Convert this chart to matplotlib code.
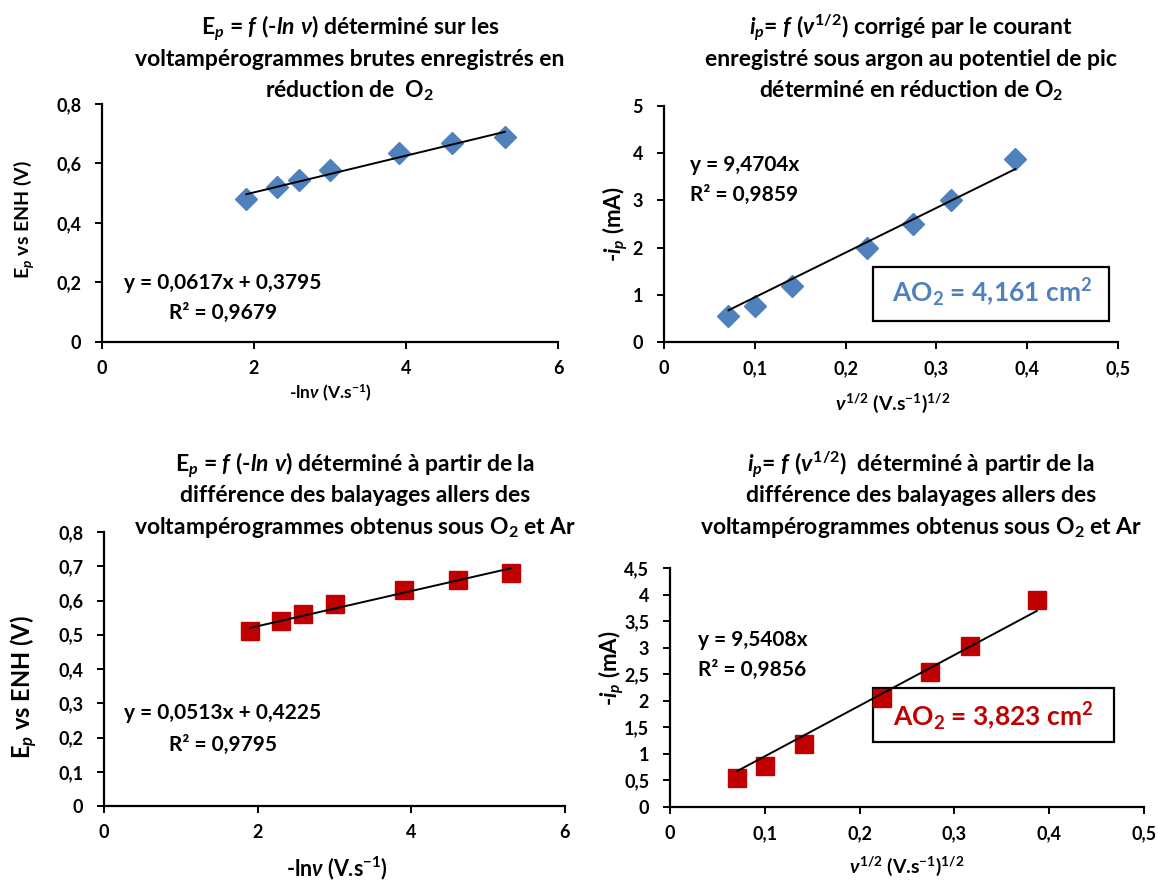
import matplotlib
matplotlib.use("Agg")
import matplotlib.pyplot as plt
import numpy as np
from matplotlib.ticker import FuncFormatter, MultipleLocator
from matplotlib.patches import Rectangle

plt.rcParams['font.family'] = ['Lato', 'DejaVu Sans']
plt.rcParams['font.weight'] = 'bold'
plt.rcParams['mathtext.fontset'] = 'custom'
plt.rcParams['mathtext.rm'] = 'Lato:bold'
plt.rcParams['mathtext.it'] = 'Lato:bold:italic'
plt.rcParams['mathtext.bf'] = 'Lato:bold'

# ---------------- data ----------------
neg_ln_v = [1.90, 2.30, 2.59, 3.00, 3.91, 4.61, 5.30]
sqrt_v = [0.071, 0.100, 0.141, 0.224, 0.274, 0.316, 0.387]

ep_raw = [0.480, 0.520, 0.545, 0.578, 0.635, 0.668, 0.690]
ip_raw = [0.55, 0.77, 1.18, 2.00, 2.50, 3.00, 3.88]
ep_diff = [0.510, 0.540, 0.560, 0.590, 0.630, 0.660, 0.680]
ip_diff = [0.55, 0.78, 1.18, 2.05, 2.55, 3.03, 3.90]

fit_ep_raw = (0.0617, 0.3795)
fit_ip_raw = (9.4704, 0.0)
fit_ep_diff = (0.0513, 0.4225)
fit_ip_diff = (9.5408, 0.0)

BLUE = '#4F81BD'
RED = '#C00000'

W, H = 1158, 881
fig = plt.figure(figsize=(W / 100, H / 100), dpi=100)

TITLE = 16.5
EQ = 15
TICK = 13


def px_axes(l, r, t, b):
    return fig.add_axes([l / W, 1 - b / H, (r - l) / W, (b - t) / H])


def ftext(x, y, s, **kw):
    return fig.text(x / W, 1 - y / H, s, **kw)


comma = FuncFormatter(lambda v, p: ('%g' % round(v, 3)).replace('.', ','))


def style(ax, xmax, xstep, ymax, ystep):
    ax.set_xlim(0, xmax)
    ax.set_ylim(0, ymax)
    ax.xaxis.set_major_locator(MultipleLocator(xstep))
    ax.yaxis.set_major_locator(MultipleLocator(ystep))
    ax.xaxis.set_major_formatter(comma)
    ax.yaxis.set_major_formatter(comma)
    for s in ['top', 'right']:
        ax.spines[s].set_visible(False)
    for s in ['left', 'bottom']:
        ax.spines[s].set_linewidth(1.6)
    ax.tick_params(direction='out', length=5, width=1.4, labelsize=TICK)
    ax.tick_params(axis='x', pad=8)
    ax.tick_params(axis='y', pad=10)
    for lab in ax.get_xticklabels() + ax.get_yticklabels():
        lab.set_fontweight('bold')
    ax.set_facecolor('none')


def trend(ax, x, fit):
    xs = np.array([min(x), max(x)])
    ax.plot(xs, fit[0] * xs + fit[1], color='black', lw=1.4, zorder=4)


def area_box(ax, l, r, t, b, cx, cy, s, color):
    rect = Rectangle((l / W, 1 - b / H), (r - l) / W, (b - t) / H, transform=fig.transFigure,
                     fc='white', ec='black', lw=1.6, zorder=2, clip_on=False)
    ax.add_patch(rect)
    ax.text(cx / W, 1 - cy / H, s, transform=fig.transFigure, ha='center', va='center',
            fontsize=19, color=color, zorder=2.5, clip_on=False)


def title3(cx, ys, lines):
    for y, s in zip(ys, lines):
        ftext(cx, y, s, ha='center', va='center', fontsize=TITLE)


# ---- Panel 1 ----
ax1 = px_axes(102, 558, 104, 342)
style(ax1, 6, 2, 0.8, 0.2)
ax1.plot(neg_ln_v, ep_raw, 'D', color=BLUE, ms=11.5, mec=BLUE, zorder=3)
trend(ax1, neg_ln_v, fit_ep_raw)
ftext(223, 283, 'y = 0,0617x + 0,3795', ha='center', va='center', fontsize=EQ)
ftext(223, 313, 'R² = 0,9679', ha='center', va='center', fontsize=EQ)
ftext(24, 219, r'E$_{\mathit{p}}$ vs ENH (V)', rotation=90, ha='center', va='center', fontsize=14)
ftext(330, 393, r'-ln$\nu$ (V.s$^{-1}$)', ha='center', va='center', fontsize=12.5)
title3(350, [28, 60, 91], [
    r'E$_{\mathit{p}}$ = $\mathit{f\ (}$-$\mathit{ln\ \nu)}$ déterminé sur les',
    'voltampérogrammes brutes enregistrés en',
    r'réduction de  O$_2$'])

# ---- Panel 2 ----
ax2 = px_axes(664, 1118, 106, 342)
style(ax2, 0.5, 0.1, 5, 1)
ax2.plot(sqrt_v, ip_raw, 'D', color=BLUE, ms=11.5, mec=BLUE, zorder=3)
trend(ax2, sqrt_v, fit_ip_raw)
ftext(690, 165, 'y = 9,4704x', ha='left', va='center', fontsize=EQ)
ftext(690, 195, 'R² = 0,9859', ha='left', va='center', fontsize=EQ)
ftext(615, 224, r'-$\mathit{i}_{\mathit{p}}$ (mA)', rotation=90, ha='center', va='center', fontsize=16)
ftext(893, 403, r'$\nu^{1/2}$ (V.s$^{-1}$)$^{1/2}$', ha='center', va='center', fontsize=14)
title3(911, [28, 60, 91], [
    r'$\mathit{i}_{\mathit{p}}$= $\mathit{f\ (\nu^{1/2})}$ corrigé par le courant',
    'enregistré sous argon au potentiel de pic',
    r'déterminé en réduction de O$_2$'])
area_box(ax2, 873, 1109, 267, 321, 992, 293, r'AO$_2$ = 4,161 cm$^2$', BLUE)

# ---- Panel 3 ----
ax3 = px_axes(104, 565, 532, 806)
style(ax3, 6, 2, 0.8, 0.1)
ax3.plot(neg_ln_v, ep_diff, 's', color=RED, ms=13.5, mec=RED, zorder=3)
trend(ax3, neg_ln_v, fit_ep_diff)
ftext(223, 713, 'y = 0,0513x + 0,4225', ha='center', va='center', fontsize=EQ)
ftext(223, 745, 'R² = 0,9795', ha='center', va='center', fontsize=EQ)
ftext(24, 687, r'E$_{\mathit{p}}$ vs ENH (V)', rotation=90, ha='center', va='center', fontsize=17)
ftext(337, 868, r'-ln$\nu$ (V.s$^{-1}$)', ha='center', va='center', fontsize=15.5)
title3(355, [465, 496, 528], [
    r'E$_{\mathit{p}}$ = $\mathit{f\ (}$-$\mathit{ln\ v)}$ déterminé à partir de la',
    'différence des balayages allers des',
    r'voltampérogrammes obtenus sous O$_2$ et Ar'])

# ---- Panel 4 ----
ax4 = px_axes(670, 1144, 568, 807)
style(ax4, 0.5, 0.1, 4.5, 0.5)
ax4.plot(sqrt_v, ip_diff, 's', color=RED, ms=13.5, mec=RED, zorder=3)
trend(ax4, sqrt_v, fit_ip_diff)
ftext(698, 640, 'y = 9,5408x', ha='left', va='center', fontsize=EQ)
ftext(698, 670, 'R² = 0,9856', ha='left', va='center', fontsize=EQ)
ftext(611, 668, r'-$\mathit{i}_{\mathit{p}}$ (mA)', rotation=90, ha='center', va='center', fontsize=16)
ftext(907, 866, r'$\nu^{1/2}$ (V.s$^{-1}$)$^{1/2}$', ha='center', va='center', fontsize=14)
title3(921, [465, 496, 528], [
    r'$\mathit{i}_{\mathit{p}}$= $\mathit{f\ (v^{1/2})}$  déterminé à partir de la',
    'différence des balayages allers des',
    r'voltampérogrammes obtenus sous O$_2$ et Ar'])
area_box(ax4, 873, 1114, 688, 742, 993, 717, r'AO$_2$ = 3,823 cm$^2$', RED)

fig.savefig('out.png', dpi=100)
